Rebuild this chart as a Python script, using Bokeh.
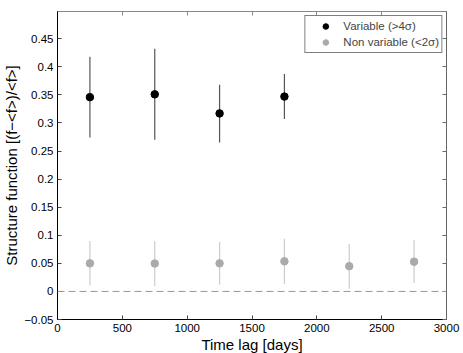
from bokeh.plotting import figure
from bokeh.models import (ColumnDataSource, Span, LinearAxis, FixedTicker, Legend, LegendItem,
                          CustomLabelingPolicy)
from bokeh.embed import file_html
from bokeh.resources import INLINE

# Data
var_lag = [250, 750, 1250, 1750]
var_sf = [0.346, 0.351, 0.317, 0.347]
var_lo = [0.274, 0.270, 0.265, 0.307]
var_hi = [0.418, 0.432, 0.368, 0.387]

non_lag = [250, 750, 1250, 1750, 2250, 2750]
non_sf = [0.050, 0.0497, 0.050, 0.0536, 0.045, 0.0529]
non_lo = [0.0107, 0.0095, 0.012, 0.0131, 0.0047, 0.0148]
non_hi = [0.0898, 0.0893, 0.088, 0.094, 0.0845, 0.0916]

x_ticks = [0, 500, 1000, 1500, 2000, 2500, 3000]
y_ticks = [-0.05, 0, 0.05, 0.1, 0.15, 0.2, 0.25, 0.3, 0.35, 0.4, 0.45]
y_labels = {-0.05: "\u22120.05", 0: "0", 0.05: "0.05", 0.1: "0.1", 0.15: "0.15", 0.2: "0.2",
            0.25: "0.25", 0.3: "0.3", 0.35: "0.35", 0.4: "0.4", 0.45: "0.45"}

FONT = "Liberation Sans"

p = figure(frame_width=389, frame_height=308, x_range=(0, 3000), y_range=(-0.05, 0.4985),
           output_backend="svg", toolbar_location=None,
           min_border_left=50, min_border_right=4, min_border_top=2, min_border_bottom=20)
p.xgrid.visible = False
p.ygrid.visible = False
p.outline_line_color = "#333333"
p.background_fill_color = "white"
p.border_fill_color = "white"

src_v = ColumnDataSource(dict(x=var_lag, y=var_sf, lo=var_lo, hi=var_hi))
src_n = ColumnDataSource(dict(x=non_lag, y=non_sf, lo=non_lo, hi=non_hi))

p.add_layout(Span(location=0, dimension="width", line_color="#f07070",
                  line_dash="7 4", line_width=1))

p.segment(x0="x", y0="lo", x1="x", y1="hi", source=src_n, line_color="#cccccc", line_width=1.2)
p.segment(x0="x", y0="lo", x1="x", y1="hi", source=src_v, line_color="#555555", line_width=1.2)
rn = p.scatter("x", "y", source=src_n, size=7.5, fill_color="#aaaaaa", line_color="#aaaaaa")
rv = p.scatter("x", "y", source=src_v, size=7.5, fill_color="black", line_color="black")

for ax in (p.xaxis[0], p.yaxis[0]):
    ax.major_tick_in = 4
    ax.major_tick_out = 0
    ax.minor_tick_in = 0
    ax.minor_tick_out = 0
    ax.axis_line_color = "black"
    ax.major_tick_line_color = "#444444"
    ax.major_label_text_font = FONT
    ax.major_label_text_font_size = "11.5px"
    ax.major_label_text_color = "black"
    ax.axis_label_text_font = FONT
    ax.axis_label_text_font_size = "15px"
    ax.axis_label_text_font_style = "normal"
    ax.axis_label_text_color = "black"

p.xaxis[0].ticker = FixedTicker(ticks=x_ticks)
p.yaxis[0].ticker = FixedTicker(ticks=y_ticks)
p.yaxis[0].major_label_overrides = y_labels
p.xaxis[0].axis_label = "Time lag [days]"
p.yaxis[0].axis_label = "Structure function [(f\u2212<f>)/<f>]"
p.xaxis[0].axis_label_standoff = 1
p.yaxis[0].axis_label_standoff = 1
p.xaxis[0].major_label_standoff = 4
p.yaxis[0].major_label_standoff = 4

hide = "for (const i of Array.from(indices)) { indices.unset(i) }\nreturn indices"

# mirrored ticks on top and right
top = LinearAxis(ticker=FixedTicker(ticks=x_ticks), major_label_policy=CustomLabelingPolicy(code=hide),
                 major_tick_in=4, major_tick_out=0, minor_tick_in=0, minor_tick_out=0,
                 axis_line_color="#888888", major_tick_line_color="#888888", major_label_standoff=0)
right = LinearAxis(ticker=FixedTicker(ticks=y_ticks), major_label_policy=CustomLabelingPolicy(code=hide),
                   major_tick_in=4, major_tick_out=0, minor_tick_in=0, minor_tick_out=0,
                   axis_line_color="#666666", major_tick_line_color="#666666", major_label_standoff=0)
p.add_layout(top, "above")
p.add_layout(right, "right")

legend = Legend(items=[LegendItem(label="Variable (>4\u03c3)", renderers=[rv]),
                       LegendItem(label="Non variable (<2\u03c3)", renderers=[rn])],
                location="top_right", margin=4, padding=2, spacing=0,
                label_text_font=FONT, label_text_font_size="11.5px",
                border_line_color="black", border_line_width=1,
                background_fill_alpha=1, glyph_width=36, glyph_height=14,
                label_height=16, label_standoff=0)
p.add_layout(legend, "center")

open("out.html", "w").write(file_html(p, INLINE))
